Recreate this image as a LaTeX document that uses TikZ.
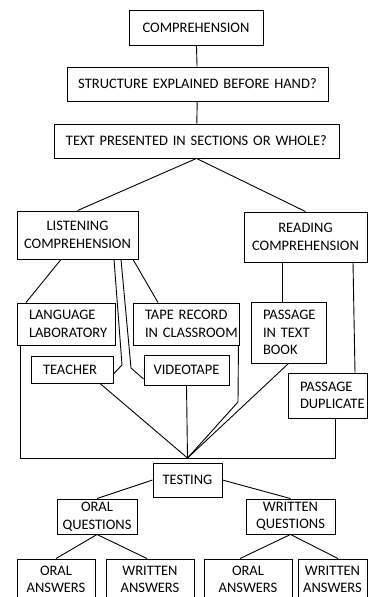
\documentclass[tikz,border=0pt]{standalone}
\usepackage{fontspec}
\setmainfont{Carlito}
\usepackage{tikz}
\usetikzlibrary{shapes,arrows.meta}
\tikzset{flow/.style={rectangle, draw, line width=0.9pt, inner sep=0pt, font=\fontsize{14.5}{17.5}\selectfont,
    execute at begin node={\hyphenpenalty=10000}},
  link/.style={line width=0.9pt}}
\newcommand{\flowbox}[5] {\node at (#1) (#2) [flow, text width=#3, minimum height=#4, align=center] {#5};}
\newcommand{\flowleft}[5] {\node at (#1) (#2) [flow, text width=#3, inner xsep=12pt, minimum height=#4, align=left] {#5};}

\begin{document}
\begin{tikzpicture}[x=1pt, y=-1pt]
\useasboundingbox (0,0) rectangle (368,597);

\flowbox {196,27.5}{comp}{134pt}{35pt}{COMPREHENSION}
\flowbox {197.5,84}{struct}{261pt}{34pt}{STRUCTURE EXPLAINED BEFORE HAND?}
\flowbox {196.5,141}{sections}{285pt}{34pt}{TEXT PRESENTED IN SECTIONS OR WHOLE?}
\flowbox {77.5,235}{listen}{121pt}{48pt}{LISTENING\\COMPREHENSION}
\flowbox {305.5,237}{reading}{123pt}{50pt}{READING\\COMPREHENSION}
\flowleft {66,324}{lab}{74pt}{42pt}{LANGUAGE\\LABORATORY}
\flowleft {186,324}{tape}{82pt}{42pt}{\mbox{TAPE RECORD}\\\mbox{IN CLASSROOM}}
\flowleft {288.5,332.5}{book}{51pt}{61pt}{PASSAGE\\\mbox{IN TEXT}\\BOOK}
\flowleft {72,369.5}{teacher}{58pt}{27pt}{TEACHER}
\flowbox {186.5,370}{video}{85pt}{30pt}{VIDEOTAPE}
\flowleft {327.5,395.5}{dup}{55pt}{45pt}{PASSAGE\\DUPLICATE}
\flowbox {187.5,480}{testing}{69pt}{34pt}{TESTING}
\flowbox {97,516.5}{oralq}{80pt}{35pt}{ORAL\\QUESTIONS}
\flowbox {290.5,516.5}{writq}{89pt}{35pt}{WRITTEN\\QUESTIONS}
\flowbox {56,579.5}{oralA}{78pt}{41pt}{ORAL\\ANSWERS}
\flowbox {150,579.5}{writA}{88pt}{41pt}{WRITTEN\\ANSWERS}
\flowbox {248,579.5}{oralB}{88pt}{41pt}{ORAL\\ANSWERS}
\flowbox {332.5,579.5}{writB}{69pt}{41pt}{WRITTEN\\ANSWERS}

\coordinate (teach1) at (122,365);
\coordinate (video1) at (131,368);
\coordinate (tape1) at (238,402);
\coordinate (hub) at ([yshift=4.5pt]testing.north);

\draw [link] (comp) -- (struct);
\draw [link] (struct) -- (sections);
\draw [link] (sections.south) -- (listen.north);
\draw [link] (sections.south) -- (reading.north);
\draw [link] ([xshift=-16.5pt]listen.south) -- ([xshift=-40pt]lab.north);
\draw [link] ([xshift=55.5pt]listen.south) -- ([xshift=-28pt]tape.north);
\draw [link] ([xshift=36.5pt]listen.south) -- (teach1) -- ([yshift=-4.5pt]teacher.east);
\draw [link] ([xshift=43.5pt]listen.south) -- (video1) -- ([yshift=-9pt]video.west);
\draw [link] ([xshift=-23.5pt]reading.south) -- ([xshift=-6.5pt]book.north);
\draw [link] ([xshift=47.5pt]reading.south) -- ([xshift=27.5pt]dup.north);
\draw [link] ([xshift=-46pt]lab.south) |- (hub);
\draw [link] ([xshift=7.5pt]dup.south) |- (hub);
\draw [link] ([xshift=-1pt]tape.south east) -- (tape1) -- (hub);
\draw [link] ([xshift=28pt]teacher.south) -- (hub);
\draw [link] (video.south) -- (hub);
\draw [link] (book.south) -- (hub);
\draw [link] (testing.west) -- (oralq.north);
\draw [link] (testing.east) -- (writq.north);
\draw [link] (oralq.south) -- (oralA.north);
\draw [link] (oralq.south) -- ([xshift=-3pt]writA.north);
\draw [link] (writq.south) -- ([xshift=-8pt]oralB.north);
\draw [link] (writq.south) -- ([xshift=5.5pt]writB.north);
\end{tikzpicture}
\end{document}
